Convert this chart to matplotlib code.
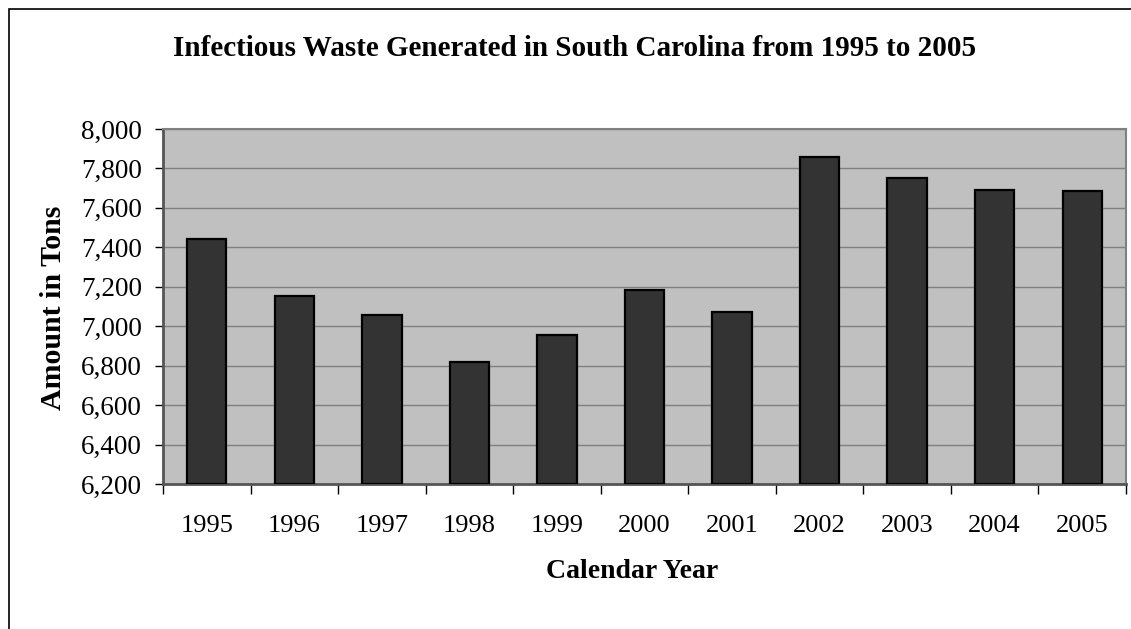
import matplotlib
matplotlib.use("Agg")
import matplotlib.pyplot as plt
from matplotlib.patches import Rectangle
from matplotlib.ticker import FuncFormatter
import numpy as np

years = ["1995", "1996", "1997", "1998", "1999", "2000", "2001", "2002", "2003", "2004", "2005"]
tons = [7442, 7151, 7058, 6817, 6955, 7185, 7074, 7856, 7753, 7689, 7684]
yticks = [6200, 6400, 6600, 6800, 7000, 7200, 7400, 7600, 7800, 8000]

W, H = 1131, 629
fig = plt.figure(figsize=(W / 100, H / 100), dpi=100)
plt.rcParams['font.family'] = ['Liberation Serif', 'DejaVu Serif']

ax = fig.add_axes([163 / W, 1 - 484 / H, (1126 - 163) / W, (484 - 129) / H])
ax.set_facecolor('#C0C0C0')

x = np.arange(len(years))
ax.bar(x, [t - 6200 for t in tons], bottom=6200, width=0.45, color='#333333',
       edgecolor='black', linewidth=1.6, zorder=3)

ax.set_xlim(-0.5, len(years) - 0.5)
ax.set_ylim(6200, 8000)
ax.set_yticks(yticks)
ax.yaxis.set_major_formatter(FuncFormatter(lambda v, p: f"{int(v):,}"))
ax.grid(axis='y', color='#808080', linewidth=1.0, zorder=1)
ax.set_axisbelow(True)

# category boundary ticks
ax.set_xticks(np.arange(-0.5, len(years), 1.0))
ax.set_xticklabels([])
ax.set_xticks(x, minor=True)
ax.set_xticklabels(years, minor=True)
ax.tick_params(axis='x', which='major', direction='out', length=7, width=1, color='black')
ax.tick_params(axis='x', which='minor', length=0, pad=22, labelsize=19)
ax.tick_params(axis='y', direction='out', length=6, width=1, color='black', pad=9, labelsize=19.5)

for s in ['top', 'right']:
    ax.spines[s].set_color('#808080')
    ax.spines[s].set_linewidth(1.5)
for s in ['left', 'bottom']:
    ax.spines[s].set_color('#555555')
    ax.spines[s].set_linewidth(2)

fig.text(575 / W, 1 - 49 / H, "Infectious Waste Generated in South Carolina from 1995 to 2005",
         ha='center', va='center', fontsize=21, fontweight='bold')
fig.text(54 / W, 1 - 308 / H, "Amount in Tons", rotation=90, ha='center', va='center',
         fontsize=21.5, fontweight='bold')
fig.text(632 / W, 1 - 572 / H, "Calendar Year", ha='center', va='center',
         fontsize=20, fontweight='bold')

# outer chart frame (cropped at right and bottom)
fig.patches.append(Rectangle((8.5 / W, -0.1), 1.2, 1 - 9.5 / H + 0.1, transform=fig.transFigure,
                             fill=False, edgecolor='black', linewidth=1.2, figure=fig))

fig.savefig("out.png", dpi=100)
